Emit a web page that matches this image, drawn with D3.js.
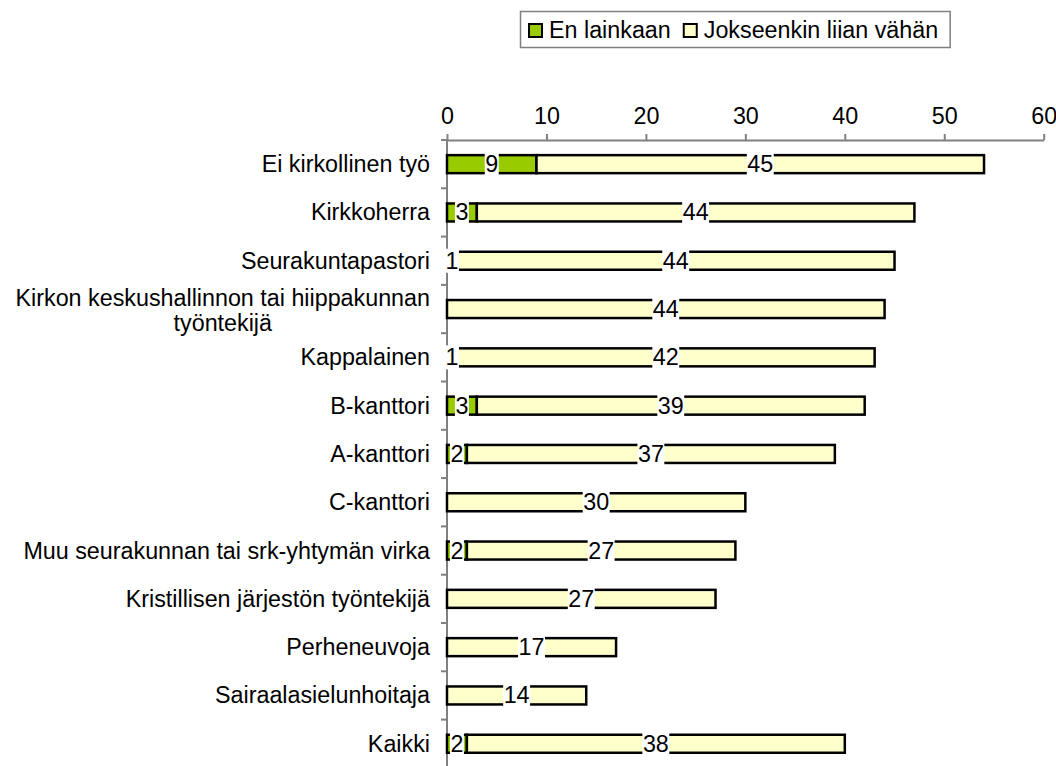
<!DOCTYPE html>
<html lang="fi">
<head>
  <meta charset="UTF-8">
  <title>En lainkaan / Jokseenkin liian vähän</title>
  <style>
    body { margin: 0; background: #fff; }
    svg { display: block; font-family: "Liberation Sans", Arial, sans-serif; }
  </style>
</head>
<body>
  <div id="chart"></div>

  <script src="https://d3js.org/d3.v7.min.js"></script>
  <script>
    // data
    const categories = [
      "Ei kirkollinen työ",
      "Kirkkoherra",
      "Seurakuntapastori",
      "Kirkon keskushallinnon tai hiippakunnan|työntekijä",
      "Kappalainen",
      "B-kanttori",
      "A-kanttori",
      "C-kanttori",
      "Muu seurakunnan tai srk-yhtymän virka",
      "Kristillisen järjestön työntekijä",
      "Perheneuvoja",
      "Sairaalasielunhoitaja",
      "Kaikki"
    ];
    const enLainkaan = [9, 3, 1, 0, 1, 3, 2, 0, 2, 0, 0, 0, 2];
    const jokseenkin = [45, 44, 44, 44, 42, 39, 37, 30, 27, 27, 17, 14, 38];
    const seriesNames = ["En lainkaan", "Jokseenkin liian vähän"];
    const colors = ["#99cc00", "#ffffcc"];
    const xTicks = [0, 10, 20, 30, 40, 50, 60];

    const width = 1056, height = 766;
    const fontSize = 23.3;

    const svg = d3.select("#chart").append("svg")
      .attr("width", width)
      .attr("height", height);

    const x = d3.scaleLinear().domain([0, 60]).range([447, 1043.7]);
    const y = d3.scaleBand().domain(d3.range(categories.length)).range([140, 140 + 48.3 * 13]);
    const barH = 18;

    // stacked rows
    const rows = categories.map((c, i) => ({
      i: i,
      segs: [
        { s: 0, v: enLainkaan[i], x0: 0, x1: enLainkaan[i] },
        { s: 1, v: jokseenkin[i], x0: enLainkaan[i], x1: enLainkaan[i] + jokseenkin[i] }
      ]
    }));

    // axes
    const xAxis = svg.append("g").attr("transform", "translate(0,140)")
      .call(d3.axisTop(x).tickValues(xTicks).tickSize(6).tickPadding(10).tickSizeOuter(0));
    xAxis.selectAll("text").attr("font-size", fontSize).attr("fill", "#000");

    const yBounds = d3.range(categories.length + 1).map(k => y.range()[0] + k * y.step());
    const yAxis = svg.append("g");
    yAxis.append("line")
      .attr("x1", x(0)).attr("x2", x(0))
      .attr("y1", 140).attr("y2", yBounds[yBounds.length - 1]);
    yAxis.selectAll(".ytick").data(yBounds).join("line")
      .attr("class", "ytick")
      .attr("x1", x(0) - 6).attr("x2", x(0))
      .attr("y1", d => d).attr("y2", d => d);
    svg.selectAll(".domain, .tick line").attr("stroke", "#808080").attr("stroke-width", 2);
    yAxis.selectAll("line").attr("stroke", "#808080").attr("stroke-width", 2);

    // bars
    const rowG = svg.append("g").selectAll("g").data(rows).join("g")
      .attr("transform", d => `translate(0,${y(d.i) + y.bandwidth() / 2})`);

    rowG.selectAll("rect.bar").data(d => d.segs.filter(s => s.v > 0)).join("rect")
      .attr("class", "bar")
      .attr("x", s => x(s.x0))
      .attr("y", -barH / 2)
      .attr("width", s => x(s.x1) - x(s.x0))
      .attr("height", barH)
      .attr("fill", s => colors[s.s])
      .attr("stroke", "#000")
      .attr("stroke-width", 2.5);

    // value labels on white boxes
    const lab = rowG.selectAll("g.lab").data(d => d.segs.filter(s => s.v > 0)).join("g")
      .attr("class", "lab")
      .attr("transform", s => `translate(${x((s.x0 + s.x1) / 2)},0)`);
    lab.append("rect").attr("fill", "#fff");
    lab.append("text")
      .attr("text-anchor", "middle")
      .attr("y", 8)
      .attr("font-size", fontSize)
      .text(s => s.v);
    lab.each(function () {
      const t = d3.select(this).select("text").node();
      const w = t.getComputedTextLength();
      d3.select(this).select("rect")
        .attr("x", -w / 2 - 0.5).attr("width", w + 1)
        .attr("y", -12).attr("height", 24);
    });

    // category labels
    svg.append("g").selectAll("text").data(categories).join("text")
      .attr("font-size", fontSize)
      .attr("fill", "#000")
      .each(function (c, i) {
        const lines = c.split("|");
        const t = d3.select(this);
        const cy = y(i) + y.bandwidth() / 2;
        const first = cy + 8 - (lines.length - 1) * 11;
        const spans = lines.map((ln, k) => t.append("tspan").attr("y", first + k * 25).text(ln));
        if (lines.length === 1) {
          t.attr("text-anchor", "end");
          spans.forEach(s => s.attr("x", 430));
        } else {
          const maxW = d3.max(spans, s => s.node().getComputedTextLength());
          t.attr("text-anchor", "middle");
          spans.forEach(s => s.attr("x", 430 - maxW / 2));
        }
      });

    // legend
    const leg = svg.append("g");
    const legBox = leg.append("rect")
      .attr("x", 520.5).attr("y", 11.5).attr("height", 36)
      .attr("fill", "#fff").attr("stroke", "#808080").attr("stroke-width", 1.5);
    let lx = 528;
    seriesNames.forEach((name, k) => {
      leg.append("rect")
        .attr("x", lx + 1).attr("y", 24).attr("width", 13).attr("height", 13)
        .attr("fill", colors[k]).attr("stroke", "#000").attr("stroke-width", 2);
      const t = leg.append("text")
        .attr("x", lx + 21).attr("y", 38)
        .attr("font-size", fontSize)
        .text(name);
      lx = lx + 21 + t.node().getComputedTextLength() + 12;
    });
    legBox.attr("width", lx - 12 + 12 - 520.5);
  </script>
</body>
</html>
